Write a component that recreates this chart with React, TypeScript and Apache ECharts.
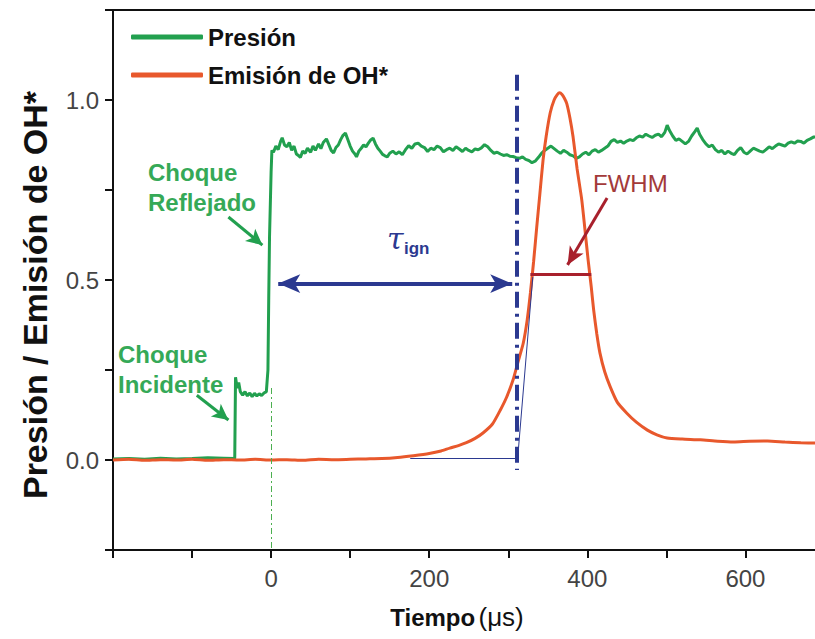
import React, { useEffect, useRef } from "react";
import * as echarts from "echarts";

const xTicks = { min: -200, max: 688, interval: 100 };
const yTicks = { min: -0.25, max: 1.25, interval: 0.25 };
const xLabelValues = [0, 200, 400, 600];
const yLabelValues = [0, 0.5, 1.0];

const presionData: [number, number][] = [
  [-200, 0.003], [-180, 0.004], [-160, 0.002], [-140, 0.005], [-120, 0.003], [-100, 0.004], [-80, 0.006], [-60, 0.005],
  [-46, 0.004], [-45, 0.23], [-43, 0.2], [-41, 0.215], [-39, 0.19], [-36, 0.18], [-33, 0.19], [-30, 0.178], [-27, 0.186],
  [-24, 0.176], [-21, 0.185], [-18, 0.178], [-15, 0.184], [-12, 0.179], [-9, 0.186], [-6, 0.19], [-4, 0.25], [-3, 0.45],
  [-2, 0.62], [0, 0.8], [1, 0.86], [3, 0.855], [6, 0.872], [9, 0.862], [12, 0.885], [14, 0.895], [17, 0.875], [20, 0.87],
  [23, 0.882], [26, 0.86], [29, 0.872], [32, 0.85], [35, 0.845], [37, 0.84], [40, 0.858], [43, 0.852], [46, 0.866],
  [50, 0.855], [53, 0.872], [56, 0.86], [60, 0.878], [63, 0.865], [66, 0.882], [70, 0.892], [73, 0.876], [76, 0.86],
  [79, 0.853], [82, 0.868], [85, 0.875], [88, 0.89], [91, 0.902], [94, 0.908], [97, 0.89], [100, 0.872], [103, 0.858],
  [106, 0.85], [108, 0.842], [111, 0.858], [114, 0.866], [117, 0.875], [120, 0.87], [123, 0.88], [126, 0.889], [129, 0.894],
  [132, 0.878], [135, 0.866], [138, 0.858], [141, 0.849], [144, 0.845], [147, 0.842], [150, 0.852], [154, 0.858], [158, 0.85],
  [162, 0.856], [166, 0.848], [170, 0.862], [174, 0.873], [178, 0.866], [182, 0.878], [186, 0.88], [190, 0.872], [194, 0.868],
  [198, 0.857], [202, 0.866], [206, 0.862], [210, 0.872], [214, 0.868], [218, 0.856], [222, 0.862], [226, 0.866], [230, 0.86],
  [234, 0.87], [238, 0.864], [242, 0.857], [246, 0.866], [250, 0.86], [254, 0.856], [258, 0.864], [262, 0.862], [266, 0.867],
  [270, 0.876], [274, 0.87], [278, 0.86], [282, 0.852], [286, 0.855], [290, 0.85], [294, 0.846], [298, 0.848], [302, 0.844],
  [306, 0.843], [310, 0.84], [314, 0.838], [318, 0.842], [322, 0.835], [326, 0.832], [330, 0.826], [334, 0.83], [338, 0.84],
  [342, 0.852], [346, 0.86], [350, 0.866], [354, 0.872], [358, 0.865], [362, 0.858], [366, 0.852], [370, 0.86], [374, 0.855],
  [378, 0.848], [382, 0.845], [386, 0.838], [390, 0.842], [394, 0.85], [398, 0.855], [402, 0.848], [406, 0.858], [410, 0.862],
  [414, 0.855], [418, 0.86], [422, 0.866], [426, 0.872], [430, 0.885], [434, 0.89], [438, 0.882], [442, 0.886], [446, 0.88],
  [450, 0.886], [454, 0.89], [458, 0.887], [462, 0.895], [466, 0.9], [470, 0.897], [474, 0.905], [478, 0.9], [482, 0.896],
  [486, 0.902], [490, 0.905], [494, 0.898], [498, 0.91], [501, 0.93], [504, 0.915], [508, 0.9], [512, 0.888], [516, 0.892],
  [520, 0.885], [524, 0.878], [528, 0.885], [532, 0.9], [536, 0.912], [539, 0.922], [542, 0.905], [546, 0.89], [550, 0.878],
  [554, 0.87], [558, 0.875], [562, 0.862], [566, 0.855], [570, 0.86], [574, 0.85], [578, 0.858], [582, 0.852], [586, 0.848],
  [590, 0.86], [594, 0.868], [598, 0.855], [602, 0.85], [606, 0.858], [610, 0.866], [614, 0.862], [618, 0.858], [622, 0.855],
  [626, 0.862], [630, 0.87], [634, 0.865], [638, 0.872], [642, 0.878], [646, 0.875], [650, 0.872], [654, 0.88], [658, 0.884],
  [662, 0.88], [666, 0.886], [670, 0.885], [674, 0.88], [678, 0.888], [682, 0.892], [686, 0.897], [690, 0.898],
];

const emisionData: [number, number][] = [
  [-200, 0.0], [-180, 0.002], [-160, -0.001], [-140, 0.001], [-120, 0.0], [-100, 0.002], [-80, -0.001], [-60, 0.001],
  [-40, 0.0], [-20, 0.002], [0, 0.0], [20, 0.001], [40, -0.001], [60, 0.002], [80, 0.001], [100, 0.002], [120, 0.003],
  [140, 0.004], [160, 0.007], [180, 0.012], [200, 0.018], [215, 0.025], [226, 0.033], [237, 0.04], [247, 0.048], [258, 0.06],
  [268, 0.075], [280, 0.1], [290, 0.139], [298, 0.175], [306, 0.222], [312, 0.27], [319, 0.325], [324, 0.39], [328, 0.464],
  [332, 0.55], [336, 0.647], [340, 0.74], [344, 0.833], [348, 0.9], [353, 0.964], [358, 1.0], [362, 1.015], [365, 1.02],
  [368, 1.015], [371, 1.005], [374, 0.99], [378, 0.95], [382, 0.897], [387, 0.81], [393, 0.722], [397, 0.64], [401, 0.556],
  [405, 0.48], [408, 0.417], [412, 0.35], [416, 0.297], [422, 0.245], [429, 0.203], [438, 0.16], [450, 0.13], [462, 0.105],
  [476, 0.083], [488, 0.07], [501, 0.061], [520, 0.058], [543, 0.056], [565, 0.052], [585, 0.05], [605, 0.052], [628, 0.053],
  [650, 0.05], [670, 0.048], [690, 0.047],
];

// annotation coordinates in data units (time, value)
const ignitionTime = 311;
const ignitionLine: [number, number][] = [[ignitionTime, 1.07], [ignitionTime, -0.028]];
const zeroLine: [number, number][] = [[0, 0.2], [0, -0.25]];
const baselineTangent: [number, number][] = [[176, 0.005], [ignitionTime, 0.005]];
const riseTangent: [number, number][] = [[312, 0.008], [331, 0.508]];
const fwhmLine: [number, number][] = [[328, 0.517], [405, 0.517]];
const tauArrow: [number, number][] = [[9, 0.49], [305, 0.49]];
const reflejadoArrow: [number, number][] = [[-54, 0.675], [-11, 0.597]];
const incidenteArrow: [number, number][] = [[-94, 0.18], [-54, 0.111]];
const fwhmArrow: [number, number][] = [[425, 0.728], [375, 0.542]];

const GREEN = "#22a04f";
const GREEN_TEXT = "#35a957";
const ORANGE = "#e8582c";
const NAVY = "#2b3990";
const DARKRED = "#a8202c";
const FONT = "'Liberation Sans', Arial, sans-serif";

function ml(coords: [number, number][], color: string, width: number, type: any, symbols: [string, string], symbolSize: any = [0, 0]) {
  return {
    silent: true,
    symbol: symbols,
    symbolSize,
    label: { show: false },
    emphasis: { disabled: true },
    lineStyle: { color, width, type, opacity: 1 },
    data: [[{ coord: coords[0] }, { coord: coords[1] }]],
  };
}

function annotationSeries(name: string, coords: [number, number][], color: string, width: number, type: any, symbols: [string, string], symbolSize: any, z: number) {
  return {
    name,
    type: "line",
    data: [],
    z,
    markLine: ml(coords, color, width, type, symbols, symbolSize),
  };
}

export default function App() {
  const ref = useRef<HTMLDivElement>(null);
  useEffect(() => {
    if (!ref.current) return;
    const chart = echarts.init(ref.current, null, { renderer: "svg" });
    chart.setOption({
      animation: false,
      backgroundColor: "#fff",
      grid: { left: 113, right: 0, top: 10, bottom: 89 },
      legend: {
        orient: "vertical",
        left: 126,
        top: 20,
        itemWidth: 72,
        itemHeight: 5,
        itemGap: 14,
        selectedMode: false,
        data: [
          { name: "Presión", icon: "roundRect", itemStyle: { color: GREEN } },
          { name: "Emisión de OH*", icon: "roundRect", itemStyle: { color: ORANGE } },
        ],
        textStyle: { fontFamily: FONT, fontSize: 24, fontWeight: "bold", color: "#111", padding: [0, 0, 0, 0] },
      },
      xAxis: [
        {
          type: "value",
          position: "bottom",
          min: xTicks.min,
          max: xTicks.max,
          interval: xTicks.interval,
          splitLine: { show: false },
          axisLine: { onZero: false, lineStyle: { color: "#111", width: 2 } },
          axisTick: { length: 8, lineStyle: { color: "#111", width: 2 } },
          axisLabel: {
            margin: 16,
            showMaxLabel: false,
            fontFamily: FONT,
            fontSize: 24,
            color: "#444",
            formatter: (v: number) => (xLabelValues.includes(v) ? String(v) : ""),
          },
        },
        {
          type: "value",
          position: "top",
          min: xTicks.min,
          max: xTicks.max,
          splitLine: { show: false },
          axisLine: { onZero: false, lineStyle: { color: "#111", width: 2 } },
          axisTick: { show: false },
          axisLabel: { show: false },
        },
      ],
      yAxis: {
        type: "value",
        position: "left",
        min: yTicks.min,
        max: yTicks.max,
        interval: yTicks.interval,
        splitLine: { show: false },
        axisLine: { show: true, onZero: false, lineStyle: { color: "#111", width: 2 } },
        axisTick: { show: true, length: 8, lineStyle: { color: "#111", width: 2 } },
        axisLabel: {
          margin: 14,
          fontFamily: FONT,
          fontSize: 24,
          color: "#444",
          formatter: (v: number) => (yLabelValues.some((y) => Math.abs(y - v) < 1e-9) ? v.toFixed(1) : ""),
        },
      },
      series: [
        annotationSeries("zero", zeroLine, "#4caf50", 1, [6, 3, 2, 3], ["none", "none"], [0, 0], 1),
        {
          name: "Presión",
          type: "line",
          data: presionData,
          showSymbol: false,
          symbol: "none",
          lineStyle: { color: GREEN, width: 3 },
          itemStyle: { color: GREEN },
          z: 2,
        },
        {
          name: "Emisión de OH*",
          type: "line",
          data: emisionData,
          showSymbol: false,
          symbol: "none",
          smooth: 0.2,
          lineStyle: { color: ORANGE, width: 3 },
          itemStyle: { color: ORANGE },
          z: 3,
        },
        annotationSeries("base", baselineTangent, NAVY, 1, "solid", ["none", "none"], [0, 0], 4),
        annotationSeries("rise", riseTangent, NAVY, 1, "solid", ["none", "none"], [0, 0], 4),
        annotationSeries("ign", ignitionLine, NAVY, 4, [16, 6, 3, 6], ["none", "none"], [0, 0], 5),
        annotationSeries("fwhm", fwhmLine, DARKRED, 3, "solid", ["none", "none"], [0, 0], 5),
        annotationSeries("tau", tauArrow, NAVY, 4, "solid", ["arrow", "arrow"], [14, 22], 5),
        annotationSeries("refl", reflejadoArrow, GREEN, 3, "solid", ["none", "arrow"], [12, 16], 5),
        annotationSeries("inc", incidenteArrow, GREEN, 3, "solid", ["none", "arrow"], [12, 16], 5),
        annotationSeries("fwhmArrow", fwhmArrow, DARKRED, 3, "solid", ["none", "arrow"], [12, 18], 5),
      ],
      graphic: [
        {
          type: "text",
          x: 35,
          y: 295,
          rotation: Math.PI / 2,
          style: {
            text: "Presión / Emisión de OH*",
            font: `bold 34px ${FONT}`,
            fill: "#111",
            align: "center",
            verticalAlign: "middle",
          },
        },
        {
          type: "text",
          x: 457,
          y: 617,
          style: {
            text: "{b|Tiempo} {r|(μs)}",
            align: "center",
            verticalAlign: "middle",
            rich: {
              b: { font: `bold 24px ${FONT}`, fill: "#111" },
              r: { font: `26px ${FONT}`, fill: "#111" },
            },
          },
        },
        {
          type: "text",
          x: 148,
          y: 157,
          style: { text: "Choque\nReflejado", font: `bold 24px ${FONT}`, lineHeight: 30, fill: GREEN_TEXT, verticalAlign: "top" },
        },
        {
          type: "text",
          x: 118,
          y: 339,
          style: { text: "Choque\nIncidente", font: `bold 24px ${FONT}`, lineHeight: 30, fill: GREEN_TEXT, verticalAlign: "top" },
        },
        {
          type: "text",
          x: 387,
          y: 238,
          style: { text: "τ", font: `italic 30px 'DejaVu Serif', serif`, fill: NAVY, verticalAlign: "middle" },
        },
        {
          type: "text",
          x: 404,
          y: 248,
          style: { text: "ign", font: `bold 17px ${FONT}`, fill: NAVY, verticalAlign: "middle" },
        },
        {
          type: "text",
          x: 593,
          y: 183,
          style: { text: "FWHM", font: `24px ${FONT}`, fill: "#a33a3a", verticalAlign: "middle" },
        },
      ],
    });
    return () => chart.dispose();
  }, []);
  return <div ref={ref} style={{ position: "fixed", left: 0, top: 0, width: 815, height: 639 }} />;
}
